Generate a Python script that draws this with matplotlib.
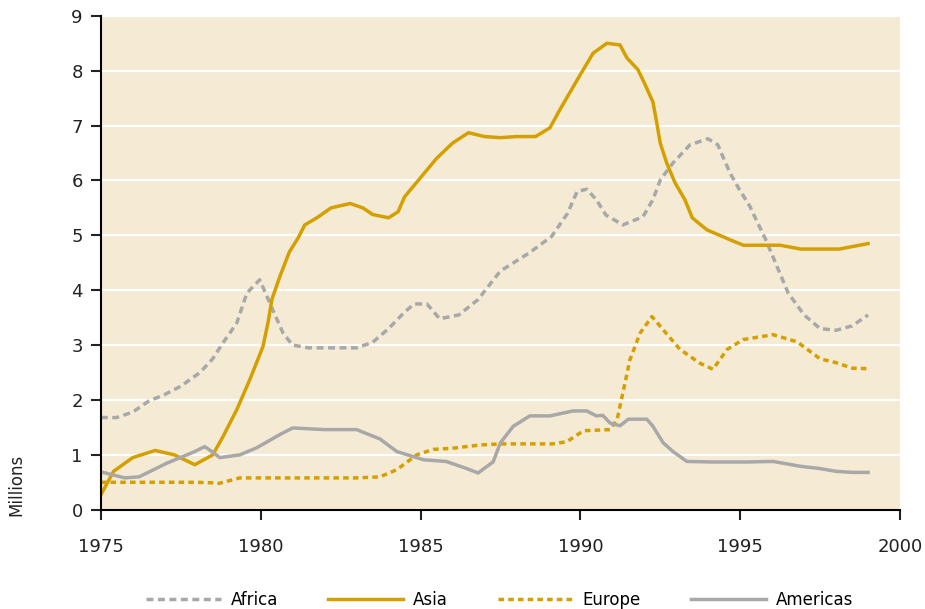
import matplotlib.pyplot as plt

# values (millions)
africa_yr = [1975.0, 1975.5, 1976.0, 1976.5, 1977.0, 1977.5, 1978.1, 1978.5, 1978.82, 1979.25,
             1979.57, 1979.97, 1980.38, 1980.7, 1981.0, 1981.5, 1982.5, 1983.0, 1983.5,
             1984.0, 1984.5, 1984.8, 1985.2, 1985.6, 1986.2, 1986.8, 1987.2, 1987.5, 1988.4,
             1989.1, 1989.6, 1989.9, 1990.2, 1990.5, 1990.8, 1991.33, 1991.96, 1992.27, 1992.5,
             1992.9, 1993.43, 1993.99, 1994.3, 1994.46, 1994.68, 1994.93, 1995.3, 1995.8,
             1996.5, 1997.0, 1997.5, 1998.0, 1998.5, 1999.0]
africa = [1.68, 1.68, 1.78, 1.98, 2.1, 2.25, 2.5, 2.75, 3.04, 3.4,
          3.95, 4.19, 3.64, 3.22, 3.0, 2.95, 2.95, 2.95, 3.05,
          3.3, 3.6, 3.75, 3.75, 3.48, 3.55, 3.83, 4.13, 4.35, 4.68,
          4.98, 5.4, 5.8, 5.84, 5.65, 5.37, 5.19, 5.34, 5.65, 6.01,
          6.32, 6.65, 6.76, 6.65, 6.43, 6.14, 5.88, 5.53, 4.92,
          3.95, 3.55, 3.3, 3.27, 3.35, 3.55]

asia_yr = [1975.0, 1975.4, 1976.0, 1976.7, 1977.3, 1977.94, 1978.5, 1978.82, 1979.25, 1979.66,
           1980.07, 1980.23, 1980.35, 1980.6, 1980.9, 1981.17, 1981.38, 1981.76, 1982.2, 1982.8,
           1983.2, 1983.5, 1984.0, 1984.3, 1984.5, 1985.0, 1985.5, 1986.0, 1986.5, 1987.0,
           1987.5, 1988.0, 1988.6, 1989.05, 1989.36, 1990.0, 1990.4, 1990.83, 1991.24, 1991.46,
           1991.8, 1992.0, 1992.27, 1992.39, 1992.5, 1992.7, 1992.96, 1993.27, 1993.5, 1993.96,
           1994.68, 1995.1, 1996.25, 1996.9, 1998.1, 1999.0]
asia = [0.27, 0.7, 0.95, 1.08, 1.0, 0.82, 1.0, 1.33, 1.82, 2.37,
        2.97, 3.41, 3.83, 4.25, 4.7, 4.95, 5.19, 5.32, 5.5, 5.58,
        5.5, 5.38, 5.32, 5.43, 5.7, 6.05, 6.4, 6.68, 6.87, 6.8,
        6.78, 6.8, 6.8, 6.96, 7.29, 7.93, 8.32, 8.5, 8.47, 8.23,
        8.02, 7.78, 7.43, 7.05, 6.68, 6.32, 5.96, 5.65, 5.32, 5.1,
        4.92, 4.82, 4.82, 4.75, 4.75, 4.85]

europe_yr = [1975.0, 1976.0, 1977.0, 1978.0, 1978.5, 1978.7, 1979.35, 1980.0, 1981.0, 1982.0,
             1983.0, 1983.73, 1984.26, 1984.88, 1985.4, 1986.0, 1986.86, 1987.5, 1989.14,
             1989.58, 1990.1, 1990.93, 1991.15, 1991.33, 1991.55, 1991.87, 1992.24, 1992.59,
             1993.12, 1993.74, 1994.15, 1994.59, 1995.09, 1996.03, 1996.78, 1997.5, 1998.0,
             1998.5, 1999.0]
europe = [0.5, 0.5, 0.5, 0.5, 0.49, 0.48, 0.58, 0.58, 0.58, 0.58,
          0.58, 0.6, 0.73, 1.0, 1.1, 1.12, 1.18, 1.2, 1.2,
          1.24, 1.44, 1.46, 1.64, 2.13, 2.73, 3.22, 3.52, 3.28,
          2.92, 2.67, 2.56, 2.92, 3.1, 3.19, 3.06, 2.75, 2.68,
          2.58, 2.57]

americas_yr = [1975.0, 1975.75, 1976.2, 1977.07, 1977.9, 1978.25, 1978.5, 1978.72, 1979.35,
               1979.88, 1980.6, 1981.0, 1982.0, 1983.0, 1983.73, 1984.26, 1985.1, 1985.8,
               1986.4, 1986.8, 1987.27, 1987.5, 1987.9, 1988.42, 1989.05, 1989.77, 1990.2,
               1990.5, 1990.7, 1990.93, 1991.24, 1991.5, 1992.08, 1992.27, 1992.59, 1992.9,
               1993.33, 1994.15, 1995.2, 1996.03, 1996.9, 1997.5, 1998.0, 1998.5, 1999.0]
americas = [0.69, 0.58, 0.6, 0.85, 1.05, 1.15, 1.05, 0.95, 1.0,
            1.13, 1.37, 1.49, 1.46, 1.46, 1.29, 1.06, 0.91, 0.88,
            0.76, 0.67, 0.87, 1.22, 1.52, 1.71, 1.71, 1.8, 1.8,
            1.71, 1.72, 1.58, 1.53, 1.65, 1.65, 1.52, 1.22, 1.06,
            0.88, 0.87, 0.87, 0.88, 0.79, 0.75, 0.7, 0.68, 0.68]

gold = "#D4A000"
grey = "#A8A8A8"
bg = "#F5EBD5"

fig = plt.figure(figsize=(9.25, 6.09), dpi=100)
ax = fig.add_axes([0.109, 0.163, 0.864, 0.811])
ax.set_facecolor(bg)

lw = 2.5
kw = dict(lw=lw, solid_joinstyle="round", dash_joinstyle="round")
ax.plot(africa_yr, africa, color=grey, dashes=(2.0, 1.3), label="Africa", **kw)
ax.plot(asia_yr, asia, color=gold, label="Asia", **kw)
ax.plot(europe_yr, europe, color=gold, dashes=(1.6, 1.2), label="Europe", **kw)
ax.plot(americas_yr, americas, color=grey, label="Americas", **kw)

ax.set_xlim(1975, 2000)
ax.set_ylim(0, 9)
ax.set_xticks(range(1975, 2001, 5))
ax.set_yticks(range(0, 10))
ax.grid(axis="y", color="white", lw=1.5)
ax.set_axisbelow(True)
for s in ["top", "right"]:
    ax.spines[s].set_visible(False)
ax.spines["left"].set_linewidth(1.5)
ax.spines["bottom"].set_linewidth(1.5)
ax.tick_params(axis="both", labelsize=13, colors="#222222", width=1.5, length=7)
ax.tick_params(axis="x", pad=13)
ax.tick_params(axis="y", pad=6)

ax.set_ylabel("Millions", fontsize=12, color="#222222")
ax.yaxis.set_label_coords(-0.095, 0.05)

fig.legend(loc="lower center", bbox_to_anchor=(0.54, -0.024), ncol=4, frameon=False,
           fontsize=12, handlelength=4.5, columnspacing=3.0, handletextpad=0.6)

plt.savefig("out.png", dpi=100)
